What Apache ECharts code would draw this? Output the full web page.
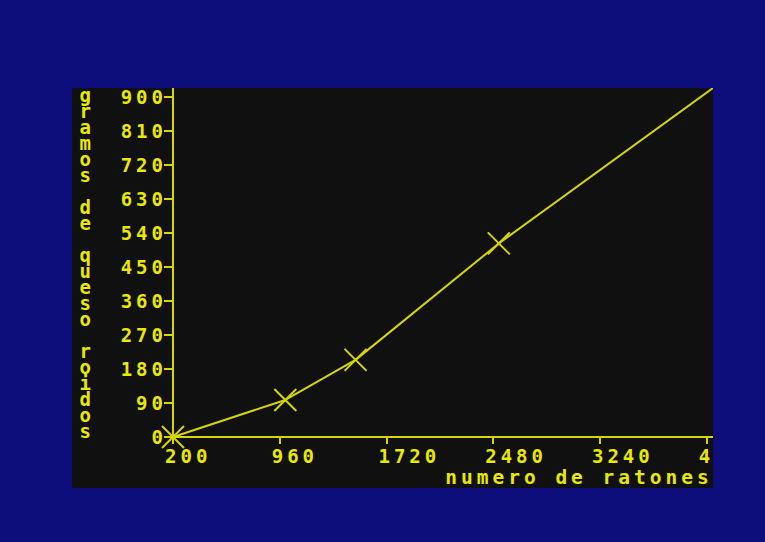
<!DOCTYPE html>
<html>
<head>
<meta charset="utf-8">
<script src="https://cdn.jsdelivr.net/npm/echarts@6/dist/echarts.min.js"></script>
<style>
  html, body { margin: 0; padding: 0; width: 765px; height: 542px; overflow: hidden; background: #0d0d7b; }
  #ChartRatones { position: absolute; left: 72px; top: 88px; width: 641px; height: 400px; background: #101010; }
  #ChartRatones text { letter-spacing: 4px; }
</style>
</head>
<body>
<div id="ChartRatones"></div>
<script>
// datos
let ratones = [200, 1000, 1500, 2520, 4045]
let gramos = [0, 98, 204, 512, 923]
let xTicks = [200, 960, 1720, 2480, 3240, 4000]
let yTicks = [0, 90, 180, 270, 360, 450, 540, 630, 720, 810, 900]
let nombreX = 'numero de ratones'
let nombreY = 'gramos de queso roidos'

let amarillo = '#e8e800'
let linea = '#d6d600'
let fuente = 'DejaVu Sans Mono'

// el ultimo punto sale por la esquina, sin marca
let seriesData = []
ratones.forEach((val, index) => {
  if (index === ratones.length - 1) {
    seriesData.push({ value: [val, gramos[index]], symbol: 'none' })
  } else {
    seriesData.push([val, gramos[index]])
  }
})

let Chart = echarts.init(document.getElementById('ChartRatones'), null, { renderer: 'svg' })
Chart.setOption({
  animation: false,
  backgroundColor: '#101010',
  grid: {
    left: 101,
    right: 0,
    top: 0,
    bottom: 51,
    containLabel: false,
    outerBoundsMode: 'none'
  },
  xAxis: {
    type: 'value',
    min: 200,
    max: 4045,
    splitLine: { show: false },
    axisLine: { lineStyle: { color: linea, width: 2 } },
    axisTick: { customValues: xTicks, length: 7, lineStyle: { color: linea, width: 2 } },
    axisLabel: {
      customValues: xTicks,
      formatter: (val) => String(val),
      align: 'left',
      margin: 9,
      padding: [0, 0, 0, -8],
      color: amarillo,
      fontFamily: fuente,
      fontWeight: 'bold',
      fontSize: 19
    },
    name: nombreX,
    nameLocation: 'middle',
    nameGap: 30,
    nameMoveOverlap: false,
    nameTextStyle: {
      align: 'center',
      verticalAlign: 'top',
      padding: [0, 0, 0, 272],
      color: amarillo,
      fontFamily: fuente,
      fontWeight: 'bold',
      fontSize: 19.5
    }
  },
  yAxis: {
    type: 'value',
    min: 0,
    max: 923,
    splitLine: { show: false },
    axisLine: { show: true, lineStyle: { color: linea, width: 2 } },
    axisTick: { show: true, customValues: yTicks, length: 9, lineStyle: { color: linea, width: 2 } },
    axisLabel: {
      customValues: yTicks,
      formatter: (val) => String(val),
      margin: 6,
      color: amarillo,
      fontFamily: fuente,
      fontWeight: 'bold',
      fontSize: 19
    },
    name: nombreY.split('').join('\n'),
    nameLocation: 'middle',
    nameRotate: 0,
    nameGap: 78,
    nameMoveOverlap: false,
    nameTextStyle: {
      color: amarillo,
      fontFamily: fuente,
      fontWeight: 'bold',
      fontSize: 19,
      lineHeight: 16
    }
  },
  series: [{
    type: 'line',
    data: seriesData,
    symbol: 'path://M0,0L10,10M10,0L0,10',
    symbolSize: 22,
    showAllSymbol: true,
    itemStyle: { color: 'rgba(0,0,0,0)', borderColor: linea, borderWidth: 2 },
    lineStyle: { color: linea, width: 2 }
  }]
})
</script>
</body>
</html>
